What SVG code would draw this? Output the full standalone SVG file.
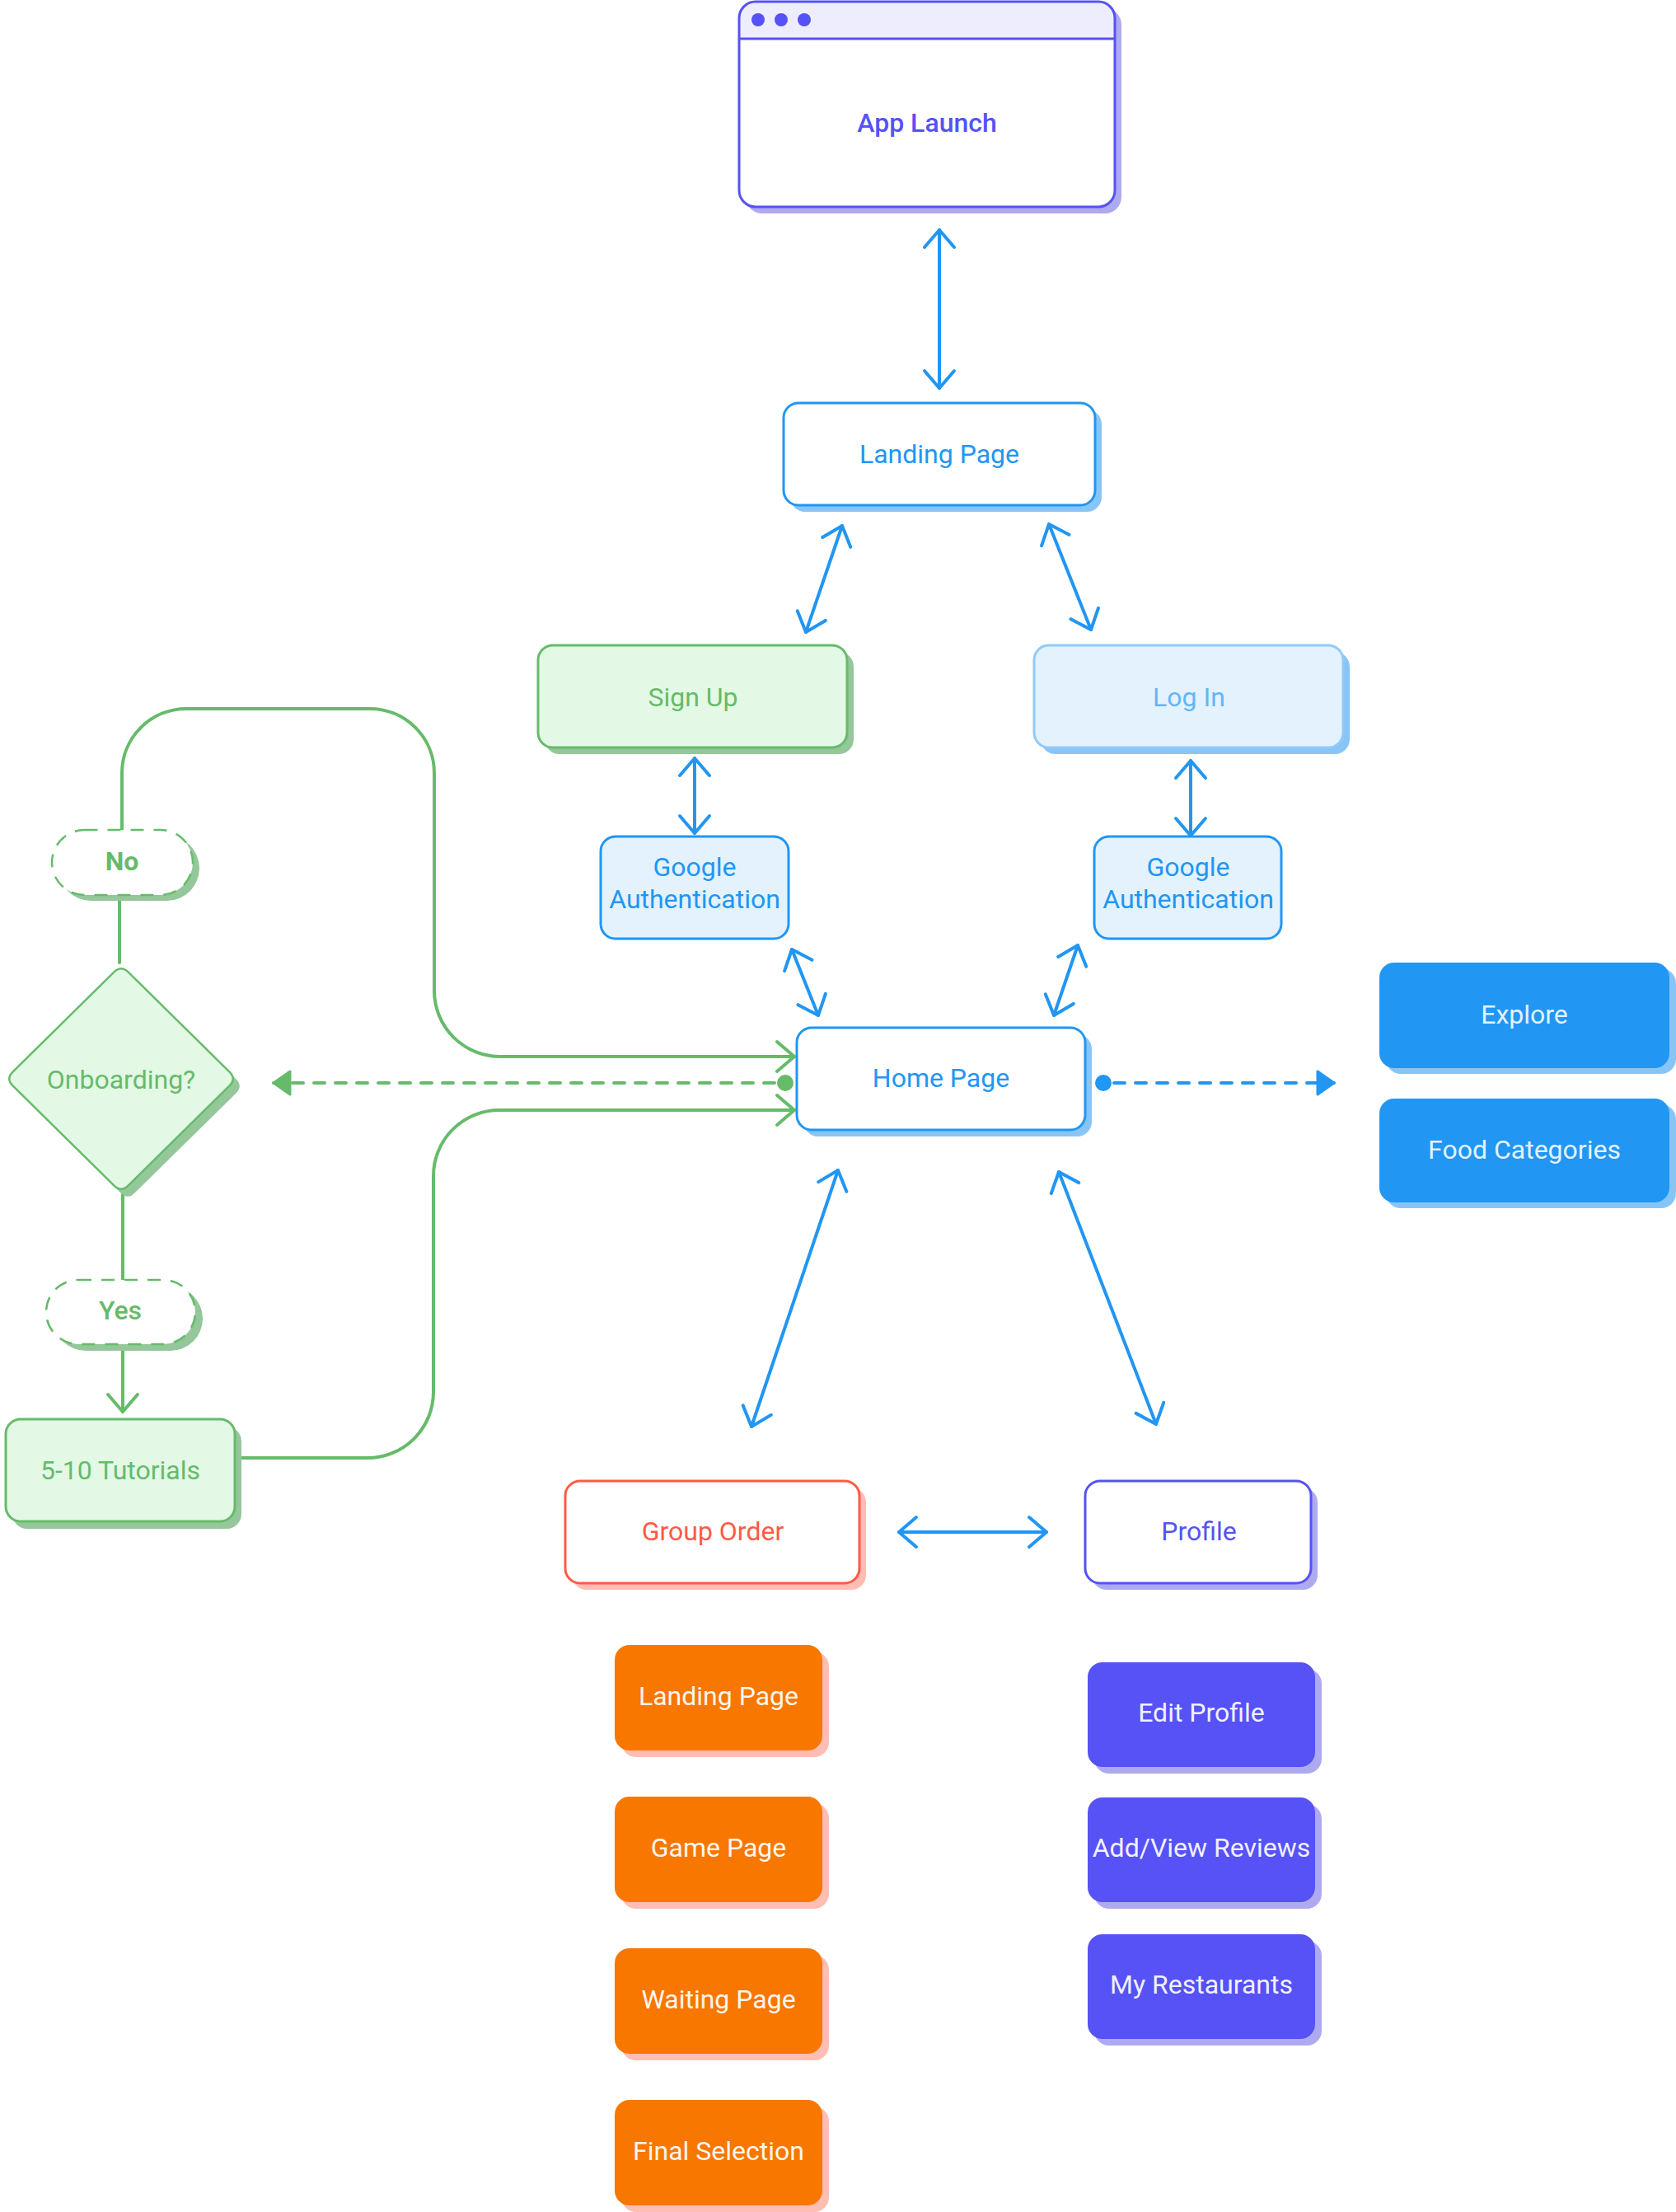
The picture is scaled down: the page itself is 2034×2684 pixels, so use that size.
<svg xmlns="http://www.w3.org/2000/svg" width="2034" height="2684" viewBox="0 0 2034 2684">
<defs>
<style>
text{font-family:Roboto,"Liberation Sans",sans-serif;font-size:32px;text-anchor:middle}
.conn{fill:none;stroke-width:4;stroke-linecap:round;stroke-linejoin:round}
.blue{stroke:#2196F3}
.green{stroke:#66BB6A}
.nb{stroke-width:3}
.sh-blue{fill:#88C5F7}
.sh-green{fill:#94C79A}
.sh-purple{fill:#ADAAF0}
.sh-red{fill:#FFBDB3}
.t-blue{fill:#2196F3}
.t-green{fill:#66BB6A}
.t-purple{fill:#5652F5}
.t-red{fill:#FF5A45}
.t-light{fill:#FFF5EC}
.t-lightblue{fill:#E3F2FD}
.t-lightp{fill:#F1F0FF}
</style>
<marker id="chevB" markerUnits="userSpaceOnUse" viewBox="-30 -30 60 60" markerWidth="60" markerHeight="60" refX="0" refY="0" orient="auto-start-reverse" overflow="visible">
<path d="M-21,-18 L0,0 L-21,18" fill="none" stroke="#2196F3" stroke-width="4" stroke-linecap="round" stroke-linejoin="round"/>
</marker>
<marker id="chevG" markerUnits="userSpaceOnUse" viewBox="-30 -30 60 60" markerWidth="60" markerHeight="60" refX="0" refY="0" orient="auto" overflow="visible">
<path d="M-21,-18 L0,0 L-21,18" fill="none" stroke="#66BB6A" stroke-width="4" stroke-linecap="round" stroke-linejoin="round"/>
</marker>
<marker id="triG" markerUnits="userSpaceOnUse" viewBox="-30 -30 60 60" markerWidth="60" markerHeight="60" refX="0" refY="0" orient="auto" overflow="visible">
<path d="M-20,-14 L0,0 L-20,14 Z" fill="#66BB6A" stroke="#66BB6A" stroke-width="3" stroke-linejoin="round" stroke-dasharray="none"/>
</marker>
<marker id="triB" markerUnits="userSpaceOnUse" viewBox="-30 -30 60 60" markerWidth="60" markerHeight="60" refX="0" refY="0" orient="auto" overflow="visible">
<path d="M-20,-14 L0,0 L-20,14 Z" fill="#2196F3" stroke="#2196F3" stroke-width="3" stroke-linejoin="round" stroke-dasharray="none"/>
</marker>
</defs>
<rect width="2034" height="2684" fill="#FFFFFF"/>

<g id="connectors">
<path class="conn blue" d="M1140,279 L1140,471" marker-start="url(#chevB)" marker-end="url(#chevB)"/>
<path class="conn blue" d="M1022,638 L978,767" marker-start="url(#chevB)" marker-end="url(#chevB)"/>
<path class="conn blue" d="M1273,636 L1324,764" marker-start="url(#chevB)" marker-end="url(#chevB)"/>
<path class="conn blue" d="M843,920 L843,1011" marker-start="url(#chevB)" marker-end="url(#chevB)"/>
<path class="conn blue" d="M1445,923 L1445,1014" marker-start="url(#chevB)" marker-end="url(#chevB)"/>
<path class="conn blue" d="M961,1152 L993,1232" marker-start="url(#chevB)" marker-end="url(#chevB)"/>
<path class="conn blue" d="M1308,1147 L1279,1232" marker-start="url(#chevB)" marker-end="url(#chevB)"/>
<path class="conn blue" d="M1017,1420 L912,1731" marker-start="url(#chevB)" marker-end="url(#chevB)"/>
<path class="conn blue" d="M1285,1422 L1403,1728" marker-start="url(#chevB)" marker-end="url(#chevB)"/>
<path class="conn blue" d="M1091,1859 L1270,1859" marker-start="url(#chevB)" marker-end="url(#chevB)"/>
<path class="conn green" d="M940,1314 L332,1314" stroke-dasharray="13 13" stroke-linecap="butt" marker-end="url(#triG)"/>
<circle cx="953" cy="1314" r="10" fill="#66BB6A"/>
<path class="conn blue" d="M1352,1314 L1619,1314" stroke-dasharray="13 13" stroke-linecap="butt" marker-end="url(#triB)"/>
<circle cx="1339" cy="1314" r="10" fill="#2196F3"/>
<path class="conn green" d="M148,1007 V938 A78,78 0 0 1 226,860 H449 A78,78 0 0 1 527,938 V1202 A80,80 0 0 0 607,1282 H964" marker-end="url(#chevG)"/>
<path class="conn green" d="M294,1769 H446 A80,80 0 0 0 526,1689 V1427 A80,80 0 0 1 606,1347 H964" marker-end="url(#chevG)"/>
<path class="conn green" d="M145,1088 V1168"/>
<path class="conn green" d="M149,1449 V1553"/>
<path class="conn green" d="M149,1633 V1713" marker-end="url(#chevG)"/>
</g>

<g id="app-launch">
<rect x="905" y="10" width="456" height="249" rx="20" class="sh-purple"/>
<rect x="897" y="2" width="456" height="249" rx="20" fill="#FFFFFF"/>
<path d="M897,47 V22 A20,20 0 0 1 917,2 H1333 A20,20 0 0 1 1353,22 V47 Z" fill="#EEEDFD"/>
<line x1="897" y1="47" x2="1353" y2="47" stroke="#5652F5" stroke-width="3"/>
<rect x="897" y="2" width="456" height="249" rx="20" fill="none" stroke="#5652F5" class="nb"/>
<circle cx="920" cy="24" r="8" fill="#5652F5"/>
<circle cx="948" cy="24" r="8" fill="#5652F5"/>
<circle cx="976" cy="24" r="8" fill="#5652F5"/>
<text x="1125" y="160" class="t-purple" font-weight="500">App Launch</text>
</g>

<g id="landing-page">
<rect x="959" y="497" width="378" height="124" rx="18" class="sh-blue"/>
<rect x="951" y="489" width="378" height="124" rx="18" fill="#FFFFFF" stroke="#2196F3" class="nb"/>
<text x="1140" y="562" class="t-blue">Landing Page</text>
</g>

<g id="sign-up">
<rect x="661" y="791" width="375" height="124" rx="18" class="sh-green"/>
<rect x="653" y="783" width="375" height="124" rx="18" fill="#E3F9E5" stroke="#66BB6A" class="nb"/>
<text x="841" y="857" class="t-green">Sign Up</text>
</g>

<g id="log-in">
<rect x="1263" y="791" width="375" height="124" rx="18" class="sh-blue"/>
<rect x="1255" y="783" width="375" height="124" rx="18" fill="#E3F2FD" stroke="#90CAF9" class="nb"/>
<text x="1443" y="857" fill="#64B5F6">Log In</text>
</g>

<g id="google-auth-signup">
<rect x="729" y="1015" width="228" height="124" rx="18" fill="#E3F2FD" stroke="#2196F3" class="nb"/>
<text x="843" y="1063" class="t-blue">Google</text>
<text x="843" y="1102" class="t-blue">Authentication</text>
</g>

<g id="google-auth-login">
<rect x="1328" y="1015" width="227" height="124" rx="18" fill="#E3F2FD" stroke="#2196F3" class="nb"/>
<text x="1442" y="1063" class="t-blue">Google</text>
<text x="1442" y="1102" class="t-blue">Authentication</text>
</g>

<g id="home-page">
<rect x="975" y="1255" width="350" height="124" rx="18" class="sh-blue"/>
<rect x="967" y="1247" width="350" height="124" rx="18" fill="#FFFFFF" stroke="#2196F3" class="nb"/>
<text x="1142" y="1319" class="t-blue">Home Page</text>
</g>

<g id="explore">
<rect x="1682" y="1175" width="352" height="128" rx="18" class="sh-blue"/>
<rect x="1674" y="1168" width="352" height="128" rx="18" fill="#2196F3"/>
<text x="1850" y="1242" class="t-lightblue">Explore</text>
</g>

<g id="food-categories">
<rect x="1682" y="1340" width="352" height="126" rx="18" class="sh-blue"/>
<rect x="1674" y="1333" width="352" height="126" rx="18" fill="#2196F3"/>
<text x="1850" y="1406" class="t-lightblue">Food Categories</text>
</g>

<g id="onboarding">
<path transform="translate(8,9)" class="sh-green" d="M138.5,1179.4 Q147,1171 155.5,1179.4 L278.5,1300.6 Q287,1309 278.5,1317.4 L155.5,1438.6 Q147,1447 138.5,1438.6 L15.5,1317.4 Q7,1309 15.5,1300.6 Z"/>
<path fill="#E3F9E5" stroke="#66BB6A" stroke-width="2.5" d="M138.5,1179.4 Q147,1171 155.5,1179.4 L278.5,1300.6 Q287,1309 278.5,1317.4 L155.5,1438.6 Q147,1447 138.5,1438.6 L15.5,1317.4 Q7,1309 15.5,1300.6 Z"/>
<text x="147" y="1321" class="t-green">Onboarding?</text>
</g>

<g id="no">
<rect x="71" y="1014" width="171" height="79" rx="39.5" class="sh-green"/>
<rect x="63" y="1007" width="171" height="79" rx="39.5" fill="#FFFFFF" stroke="#66BB6A" stroke-width="2.5" stroke-dasharray="16 12"/>
<text x="148" y="1056" class="t-green" font-size="28" font-weight="700">No</text>
</g>

<g id="yes">
<rect x="65" y="1561" width="181" height="78" rx="39" class="sh-green"/>
<rect x="56" y="1553" width="181" height="78" rx="39" fill="#FFFFFF" stroke="#66BB6A" stroke-width="2.5" stroke-dasharray="16 12"/>
<text x="146" y="1601" class="t-green" font-size="28" font-weight="500">Yes</text>
</g>

<g id="tutorials">
<rect x="15" y="1731" width="278" height="124" rx="18" class="sh-green"/>
<rect x="7" y="1722" width="278" height="124" rx="18" fill="#E3F9E5" stroke="#66BB6A" class="nb"/>
<text x="146" y="1795" class="t-green">5-10 Tutorials</text>
</g>

<g id="group-order">
<rect x="694" y="1805" width="357" height="124" rx="18" class="sh-red"/>
<rect x="686" y="1797" width="357" height="124" rx="18" fill="#FFFFFF" stroke="#FF5A45" class="nb"/>
<text x="865" y="1869" class="t-red">Group Order</text>
</g>

<g id="profile">
<rect x="1325" y="1805" width="274" height="124" rx="18" class="sh-purple"/>
<rect x="1317" y="1797" width="274" height="124" rx="18" fill="#FFFFFF" stroke="#5652F5" class="nb"/>
<text x="1455" y="1869" class="t-purple">Profile</text>
</g>

<g id="go-landing-page">
<rect x="754" y="2004" width="252" height="128" rx="18" class="sh-red"/>
<rect x="746" y="1996" width="252" height="128" rx="18" fill="#F77700"/>
<text x="872" y="2069" class="t-light">Landing Page</text>
</g>

<g id="go-game-page">
<rect x="754" y="2188" width="252" height="128" rx="18" class="sh-red"/>
<rect x="746" y="2180" width="252" height="128" rx="18" fill="#F77700"/>
<text x="872" y="2253" class="t-light">Game Page</text>
</g>

<g id="go-waiting-page">
<rect x="754" y="2372" width="252" height="128" rx="18" class="sh-red"/>
<rect x="746" y="2364" width="252" height="128" rx="18" fill="#F77700"/>
<text x="872" y="2437" class="t-light">Waiting Page</text>
</g>

<g id="go-final-selection">
<rect x="754" y="2556" width="252" height="128" rx="18" class="sh-red"/>
<rect x="746" y="2548" width="252" height="128" rx="18" fill="#F77700"/>
<text x="872" y="2621" class="t-light">Final Selection</text>
</g>

<g id="edit-profile">
<rect x="1328" y="2025" width="276" height="127" rx="18" class="sh-purple"/>
<rect x="1320" y="2017" width="276" height="127" rx="18" fill="#5652F5"/>
<text x="1458" y="2089" class="t-lightp">Edit Profile</text>
</g>

<g id="add-view-reviews">
<rect x="1328" y="2189" width="276" height="127" rx="18" class="sh-purple"/>
<rect x="1320" y="2181" width="276" height="127" rx="18" fill="#5652F5"/>
<text x="1458" y="2253" class="t-lightp">Add/View Reviews</text>
</g>

<g id="my-restaurants">
<rect x="1328" y="2355" width="276" height="127" rx="18" class="sh-purple"/>
<rect x="1320" y="2347" width="276" height="127" rx="18" fill="#5652F5"/>
<text x="1458" y="2419" class="t-lightp">My Restaurants</text>
</g>
</svg>
